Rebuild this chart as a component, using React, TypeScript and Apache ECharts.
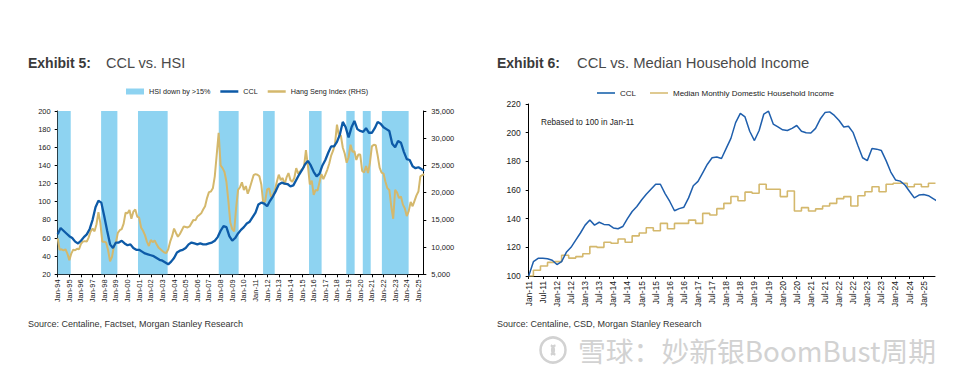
import React, { useEffect, useRef } from "react";
import * as echarts from "echarts";

// ---------- Exhibit 5: CCL vs HSI ----------
// CCL, quarterly from Jan-94
const cclStartYear = 1994;
const cclQuarterly = [
  64, 71, 68, 65, 62, 60, 56, 54, 57, 61, 64, 70, 80, 94, 101, 99,
  84, 68, 53, 49, 55, 55, 57, 54, 52, 53, 49, 47, 47, 45, 43, 42,
  41, 40, 38, 36, 35, 33, 31, 34, 38, 44, 46, 47, 49, 53, 55, 54,
  53, 54, 53, 53, 54, 55, 57, 61, 68, 73, 72, 62, 57, 60, 65, 69,
  72, 76, 78, 83, 88, 97, 99, 98, 95, 101, 106, 112, 119, 121, 120, 119.5,
  117, 118, 124, 130, 135, 141, 145, 140, 133, 128, 131, 140,
  146, 154, 161, 161, 166, 174, 188, 182, 171, 182, 189, 180,
  178, 177, 181, 176, 176, 181, 188, 186, 182, 180, 178, 164,
  160, 167, 165, 155, 147, 146, 139, 137, 138, 136, 134,
];
// Hang Seng Index, every two months from Jan-94
const hsiBimonthly = [
  11600, 9500, 9600, 9400, 9600, 8800,
  7600, 8800, 9500, 9400, 9700, 9600,
  10600, 11000, 11100, 11000, 11800, 12900,
  13400, 12900, 14200, 16400, 14400, 11000,
  11000, 10800, 9400, 7400, 8200, 10200,
  10800, 12600, 13100, 13300, 14300, 16300,
  16200, 16800, 15200, 16500, 16900, 15600,
  15400, 13600, 13000, 12200, 11000, 10200,
  11300, 10900, 11200, 10500, 9900, 9600,
  9300, 9000, 8900, 9600, 11000, 12000,
  13400, 12600, 11900, 12400, 13100, 13800,
  13700, 13600, 13800, 14400, 15000, 14900,
  15600, 15900, 16200, 16900, 17500, 19000,
  20100, 20200, 20800, 23000, 27000, 31000,
  25000, 24500, 23800, 22000, 18500, 14500,
  13300, 12900, 17200, 20500, 21000, 21900,
  20500, 21200, 19800, 20800, 22000, 23200,
  23400, 23300, 23000, 21500, 18000, 18500,
  20600, 20800, 19200, 19600, 20500, 22000,
  23300, 22300, 22700, 21500, 22800, 23600,
  22300, 22000, 22700, 24500, 23500, 23900,
  24300, 24700, 27800, 25000, 21500, 22200,
  19600, 20500, 20400, 21900, 23400, 22500,
  23300, 24200, 25300, 26800, 27700, 29000,
  32500, 30500, 30500, 28300, 27200, 25500,
  26500, 28800, 27500, 27600, 26000, 27000,
  27000, 24000, 23700, 24900, 23600, 25500,
  28500, 28800, 28700, 26800, 24600, 23700,
  23500, 22000, 20800, 20500, 17500, 15200,
  20500, 20000, 19000, 19300, 17800, 17100,
  15700, 16600, 18300, 17500, 18500, 19500,
  20200, 23000, 23200, 23400,
];
// Periods where HSI was down by more than 15% (decimal years)
const bandStart = [1994.0, 1997.73, 2000.9, 2007.84, 2011.65, 2015.6, 2018.8, 2020.22, 2021.86];
const bandEnd = [1995.12, 1999.13, 2003.45, 2009.55, 2012.65, 2016.68, 2019.52, 2020.9, 2024.16];

// ---------- Exhibit 6: CCL vs Median Household Income ----------
// CCL rebased (Jan-11 = 100), every two months from Jan-11
const cclRebased = [
  100, 110, 112.3, 112.3, 112, 111,
  108, 110, 116.5, 120, 125, 130,
  135.5, 139, 135.5, 137.5, 136, 135.8,
  133.5, 133, 134.5, 140, 145, 148.5,
  153, 157, 160.5, 164, 164, 157.5,
  152, 145.5, 147, 148, 154.5, 163,
  166, 172, 178, 182.5, 183, 182,
  189, 196, 207, 213.5, 211, 201,
  194.5, 201.5, 213, 215, 206, 204,
  202, 201.5, 203, 205, 201, 200,
  199.8, 203, 209.5, 214, 214.5, 212,
  208.5, 204, 204.5, 200, 191, 182.5,
  180.5, 189, 188.5, 187.5, 180.5, 172.5,
  167, 166.2, 163.5, 159, 154.5, 156.5,
  156.8, 156, 154, 152,
];
// Median monthly domestic household income (rebased): Jan-11, then quarterly Mar/Jun/Sep/Dec
const incomeRebased = [
  100,
  104, 107, 109.5, 110,
  114.5, 112.5, 113.5, 115.5,
  120.5, 120, 123.5, 122.8,
  125.8, 123.5, 128, 130,
  133.7, 131.6, 136.7, 133,
  136.7, 136.7, 139, 136.7,
  143.7, 142.6, 147, 150.7,
  155.5, 152.5, 158.5, 157.7,
  164, 160.5, 160.5, 155.4,
  159.3, 145.4, 147.7, 145.4,
  146.8, 148.8, 150.7, 154,
  155.4, 148.8, 156, 158.8,
  162.3, 158.8, 164, 164.7,
  164.7, 162.3, 164, 162.3,
  164.7, 164.7,
];

const FONT = "'Liberation Sans', Arial, Helvetica, sans-serif";
const BLUE = "#0D5AA7";
const GOLD = "#D4B86C";
const BAND = "#8ED3F1";
const LINE_ICON = "path://M0,0H72V10H0Z";

export default function App() {
  const ref = useRef<HTMLDivElement>(null);

  useEffect(() => {
    if (!ref.current) return;
    const chart = echarts.init(ref.current, null, { renderer: "svg" });

    const cclLeftData = cclQuarterly.map((v, i) => [cclStartYear + i / 4, v]);
    const hsiData = hsiBimonthly.map((v, i) => [1994 + i / 6, v]);
    const cclRightData = cclRebased.map((v, i) => [2011 + i / 6, v]);
    const incomeData = incomeRebased.map((v, i) => [
      i === 0 ? 2011 : 2011 + (2 + 3 * (i - 1)) / 12,
      v,
    ]);

    const axisLineStyle = { color: "#000", width: 1 };
    const mid = { verticalAlign: "middle", textVerticalAlign: "middle" };

    const option: any = {
      animation: false,
      textStyle: { fontFamily: FONT },
      grid: [
        { left: 57.7, top: 111, width: 365.6, height: 163.3 },
        { left: 528.7, top: 104, width: 406.3, height: 172 },
      ],
      legend: [
        {
          left: 126,
          top: 88,
          itemWidth: 18,
          itemHeight: 6,
          itemGap: 10,
          padding: 0,
          textStyle: { fontSize: 7.2, color: "#222", fontFamily: FONT },
          data: [
            { name: "HSI down by >15%", icon: "rect" },
            { name: "CCL", icon: LINE_ICON },
            { name: "Hang Seng Index (RHS)", icon: LINE_ICON },
          ],
        },
        {
          left: 597,
          top: 89,
          itemWidth: 18,
          itemHeight: 8,
          itemGap: 14,
          padding: 0,
          textStyle: { fontSize: 8, color: "#222", fontFamily: FONT },
          data: [
            { name: "CCL", icon: "path://M0,0H72V6H0Z" },
            { name: "Median Monthly Domestic Household Income", icon: "path://M0,0H72V6H0Z" },
          ],
        },
      ],
      xAxis: [
        {
          type: "value",
          gridIndex: 0,
          min: 1994,
          max: 2025.42,
          interval: 1,
          splitLine: { show: false },
          axisLine: { show: true, onZero: false, lineStyle: axisLineStyle },
          axisTick: { show: true, length: 3, lineStyle: axisLineStyle },
          axisLabel: {
            rotate: 90,
            fontSize: 7.5,
            color: "#222",
            margin: 5,
            showMaxLabel: false,
            formatter: (v: number) =>
              Math.abs(v - Math.round(v)) < 1e-6 ? "Jan-" + String(Math.round(v)).slice(2) : "",
          },
        },
        {
          type: "value",
          gridIndex: 1,
          min: 2011,
          max: 2025.4,
          interval: 0.5,
          splitLine: { show: false },
          axisLine: { show: true, onZero: false, lineStyle: axisLineStyle },
          axisTick: { show: true, length: 3, lineStyle: axisLineStyle },
          axisLabel: {
            rotate: 90,
            fontSize: 8.5,
            color: "#222",
            margin: 5,
            showMaxLabel: false,
            formatter: (v: number) => {
              const y = Math.floor(v + 1e-6);
              const f = v - y;
              const yy = String(y).slice(2);
              if (Math.abs(f) < 1e-6) return "Jan-" + yy;
              if (Math.abs(f - 0.5) < 1e-6) return "Jul-" + yy;
              return "";
            },
          },
        },
      ],
      yAxis: [
        {
          type: "value",
          gridIndex: 0,
          min: 20,
          max: 200,
          interval: 20,
          splitLine: { show: false },
          axisLine: { show: true, lineStyle: axisLineStyle },
          axisTick: { show: true, length: 3, lineStyle: axisLineStyle },
          axisLabel: { fontSize: 7.5, color: "#222", margin: 7 },
        },
        {
          type: "value",
          gridIndex: 0,
          position: "right",
          min: 5000,
          max: 35000,
          interval: 5000,
          splitLine: { show: false },
          axisLine: { show: true, lineStyle: axisLineStyle },
          axisTick: { show: true, length: 3, lineStyle: axisLineStyle },
          axisLabel: {
            fontSize: 7.5,
            color: "#222",
            margin: 8,
            formatter: (v: number) => v.toLocaleString("en-US"),
          },
        },
        {
          type: "value",
          gridIndex: 1,
          min: 100,
          max: 220,
          interval: 20,
          splitLine: { show: false },
          axisLine: { show: true, lineStyle: axisLineStyle },
          axisTick: { show: true, length: 3, lineStyle: axisLineStyle },
          axisLabel: { fontSize: 8.5, color: "#222", margin: 8 },
        },
      ],
      series: [
        {
          name: "HSI down by >15%",
          type: "line",
          xAxisIndex: 0,
          yAxisIndex: 0,
          data: [],
          color: BAND,
          z: 1,
          markArea: {
            silent: true,
            itemStyle: { color: BAND, opacity: 1 },
            data: bandStart.map((s, i) => [{ xAxis: s }, { xAxis: bandEnd[i] }]),
          },
        },
        {
          name: "Hang Seng Index (RHS)",
          type: "line",
          xAxisIndex: 0,
          yAxisIndex: 1,
          data: hsiData,
          symbol: "none",
          color: GOLD,
          lineStyle: { color: GOLD, width: 2 },
          z: 3,
        },
        {
          name: "CCL",
          type: "line",
          xAxisIndex: 0,
          yAxisIndex: 0,
          data: cclLeftData,
          symbol: "none",
          color: BLUE,
          lineStyle: { color: BLUE, width: 2.3 },
          z: 4,
        },
        {
          name: "Median Monthly Domestic Household Income",
          type: "line",
          xAxisIndex: 1,
          yAxisIndex: 2,
          data: incomeData,
          step: "end",
          symbol: "none",
          color: GOLD,
          lineStyle: { color: GOLD, width: 1.6 },
          z: 3,
        },
        {
          name: "CCL",
          type: "line",
          xAxisIndex: 1,
          yAxisIndex: 2,
          data: cclRightData,
          symbol: "none",
          color: "#1F5FAD",
          lineStyle: { color: "#1F5FAD", width: 1.5 },
          z: 4,
        },
      ],
      graphic: [
        {
          type: "text",
          x: 28,
          y: 63,
          style: { text: "Exhibit 5:", fill: "#3a3a3a", font: `bold 14px ${FONT}`, ...mid },
        },
        {
          type: "text",
          x: 106,
          y: 63,
          style: { text: "CCL vs. HSI", fill: "#4a4a4a", font: `14.5px ${FONT}`, ...mid },
        },
        {
          type: "text",
          x: 497,
          y: 63,
          style: { text: "Exhibit 6:", fill: "#3a3a3a", font: `bold 14px ${FONT}`, ...mid },
        },
        {
          type: "text",
          x: 577,
          y: 63,
          style: { text: "CCL vs. Median Household Income", fill: "#4a4a4a", font: `14.8px ${FONT}`, ...mid },
        },
        {
          type: "text",
          x: 541,
          y: 122.5,
          style: { text: "Rebased to 100 in Jan-11", fill: "#222", font: `8.2px ${FONT}`, ...mid },
        },
        {
          type: "text",
          x: 28,
          y: 324,
          style: { text: "Source: Centaline, Factset, Morgan Stanley Research", fill: "#333", font: `9px ${FONT}`, ...mid },
        },
        {
          type: "text",
          x: 497,
          y: 324,
          style: { text: "Source: Centaline, CSD, Morgan Stanley Research", fill: "#333", font: `9px ${FONT}`, ...mid },
        },
        {
          type: "circle",
          shape: { cx: 553, cy: 350, r: 12.5 },
          style: { fill: "none", stroke: "#d2d2d2", lineWidth: 2.5 },
        },
        {
          type: "arc",
          shape: { cx: 549, cy: 350, r: 5, startAngle: -1.2, endAngle: 1.2 },
          style: { fill: "none", stroke: "#d2d2d2", lineWidth: 2.2 },
        },
        {
          type: "arc",
          shape: { cx: 557, cy: 350, r: 5, startAngle: 1.9, endAngle: 4.4 },
          style: { fill: "none", stroke: "#d2d2d2", lineWidth: 2.2 },
        },
        {
          type: "text",
          x: 578,
          y: 350,
          style: {
            text: "雪球：妙新银BoomBust周期",
            fill: "#d2d2d2",
            font: `27.8px 'Noto Sans CJK SC', 'Noto Sans', sans-serif`,
            ...mid,
          },
        },
      ],
    };

    chart.setOption(option);
    return () => chart.dispose();
  }, []);

  return (
    <div
      ref={ref}
      style={{ position: "absolute", left: 0, top: 0, width: 961, height: 379, background: "#fff" }}
    />
  );
}
